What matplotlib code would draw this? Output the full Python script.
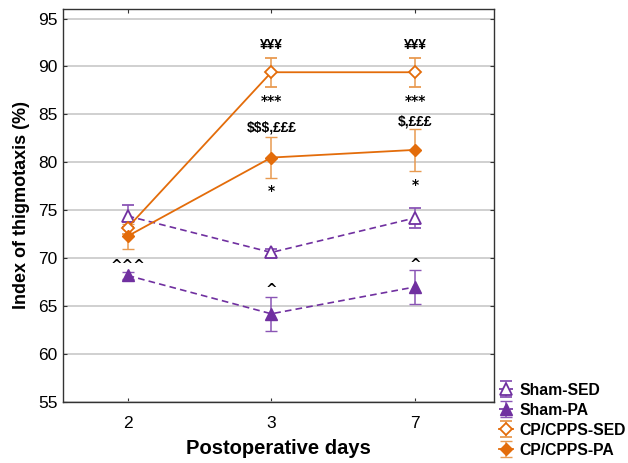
import matplotlib
matplotlib.use('Agg')
import matplotlib.pyplot as plt

plt.rcParams['font.family'] = ['Liberation Sans', 'DejaVu Sans']

days = ['2', '3', '7']
xpos = [0, 1, 2]

sham_sed = [74.4, 70.6, 74.2]
sham_sed_err = [1.1, 0.4, 1.05]
sham_pa = [68.2, 64.2, 67.0]
sham_pa_err = [0.35, 1.75, 1.75]
cp_sed = [73.2, 89.4, 89.4]
cp_sed_err = [0.7, 1.5, 1.5]
cp_pa = [72.3, 80.5, 81.3]
cp_pa_err = [1.3, 2.1, 2.2]

# significance marks: (x index, y value, text)
marks = [
    (1, 92.2, '¥¥¥'), (2, 92.2, '¥¥¥'),
    (1, 86.4, '***'), (2, 86.4, '***'),
    (1, 83.6, '$$$,£££'), (2, 84.3, '$,£££'),
    (1, 77.0, '*'), (2, 77.6, '*'),
    (0, 69.2, '^^^'), (1, 66.7, '^'), (2, 69.3, '^'),
]

purple = '#7030a0'
purple_err = '#8a55b5'
orange = '#e36c0a'
orange_err = '#e89a50'

fig = plt.figure(figsize=(6.28, 4.63), dpi=100)
ax = fig.add_axes([0.1003, 0.1318, 0.6863, 0.8488])

h1 = ax.errorbar(xpos, sham_sed, yerr=sham_sed_err, color=purple, ecolor=purple_err,
                 ls='--', lw=1.2, marker='^', ms=8, mfc='white', mec=purple, mew=1.3,
                 capsize=4, elinewidth=1.1, label='Sham-SED', dashes=(4, 2.5))
h2 = ax.errorbar(xpos, sham_pa, yerr=sham_pa_err, color=purple, ecolor=purple_err,
                 ls='--', lw=1.2, marker='^', ms=8, mfc=purple, mec=purple,
                 capsize=4, elinewidth=1.1, label='Sham-PA', dashes=(4, 2.5))
h3 = ax.errorbar(xpos, cp_sed, yerr=cp_sed_err, color=orange, ecolor=orange_err,
                 ls='-', lw=1.3, marker='D', ms=6.5, mfc='white', mec=orange, mew=1.3,
                 capsize=4, elinewidth=1.1, label='CP/CPPS-SED')
h4 = ax.errorbar(xpos, cp_pa, yerr=cp_pa_err, color=orange, ecolor=orange_err,
                 ls='-', lw=1.3, marker='D', ms=6.5, mfc=orange, mec=orange,
                 capsize=4, elinewidth=1.1, label='CP/CPPS-PA')

for xi, yv, txt in marks:
    # asterisks and carets read better in DejaVu's larger glyphs
    fam = 'DejaVu Sans' if txt[0] in '*^' else 'Liberation Sans'
    ax.text(xi, yv, txt, ha='center', va='center', fontsize=10,
            fontweight='bold', family=fam)

ax.set_xlim(-0.45, 2.55)
ax.set_ylim(55, 96)
ax.set_xticks(xpos)
ax.set_xticklabels(days)
ax.set_yticks(range(55, 96, 5))
ax.yaxis.grid(True, color='#c8c8c8', lw=1.2)
ax.set_axisbelow(True)
ax.tick_params(direction='in', length=3, labelsize=12.5, top=True, right=True,
               pad=10, color='#333333')
ax.tick_params(axis='y', pad=4)
for s in ax.spines.values():
    s.set_color('#333333')
    s.set_linewidth(1.0)

ax.set_xlabel('Postoperative days', fontsize=14.5, fontweight='bold', labelpad=6)
ax.set_ylabel('Index of thigmotaxis (%)', fontsize=13, fontweight='bold', labelpad=6)

leg = fig.legend(handles=[h1, h2, h3, h4], loc='lower left',
                 bbox_to_anchor=(0.785, -0.002), frameon=False,
                 prop={'weight': 'bold', 'size': 11.3}, handlelength=0.9,
                 handletextpad=0.4, labelspacing=0.32, borderaxespad=0)

fig.savefig('out.png', dpi=100)
